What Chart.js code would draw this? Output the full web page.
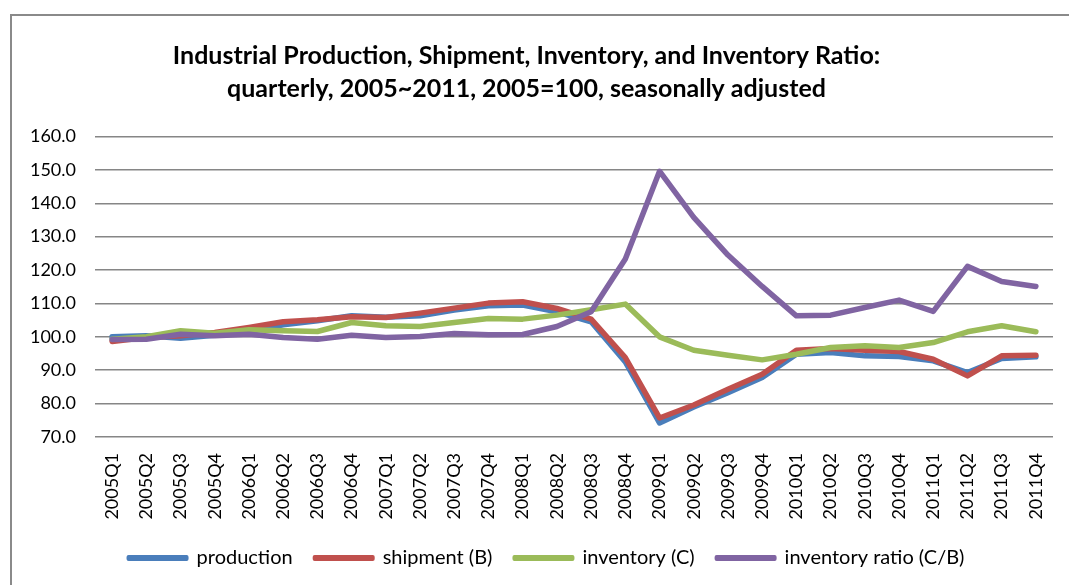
<!DOCTYPE html>
<html lang="en">
<head>
    <meta charset="UTF-8">
    <title>Industrial Production, Shipment, Inventory</title>
    <style>
        html, body { margin: 0; padding: 0; background: #fff; }
        #frame { position: absolute; left: 10px; top: 14px; width: 1200px; height: 700px;
                 border-left: 2px solid #8a8a8a; border-top: 2px solid #8a8a8a; }
        #wrap { position: absolute; left: 0; top: 0; width: 1069px; height: 585px; }
    </style>
</head>
<body>
    <div id="frame"></div>
    <div id="wrap"><canvas id="myChart"></canvas></div>

    <script src="https://cdn.jsdelivr.net/npm/chart.js"></script>
    <script>
        // quarters 2005Q1 .. 2011Q4
        const labels = [
            '2005Q1', '2005Q2', '2005Q3', '2005Q4',
            '2006Q1', '2006Q2', '2006Q3', '2006Q4',
            '2007Q1', '2007Q2', '2007Q3', '2007Q4',
            '2008Q1', '2008Q2', '2008Q3', '2008Q4',
            '2009Q1', '2009Q2', '2009Q3', '2009Q4',
            '2010Q1', '2010Q2', '2010Q3', '2010Q4',
            '2011Q1', '2011Q2', '2011Q3', '2011Q4'
        ];

        const production = [100.0, 100.3, 99.6, 100.5, 101.6, 103.6, 104.8, 106.3,
            105.9, 106.3, 108.0, 109.3, 109.5, 107.5, 104.5, 92.5,
            74.2, 79.0, 83.3, 87.8, 94.8, 95.3, 94.3, 94.1,
            92.8, 89.3, 93.5, 94.0];

        const shipment = [98.6, 99.8, 100.3, 101.3, 102.8, 104.5, 105.1, 106.0,
            105.8, 107.1, 108.6, 110.1, 110.5, 108.5, 105.3, 93.8,
            75.7, 79.6, 84.3, 88.8, 96.0, 96.5, 96.0, 95.6,
            93.3, 88.3, 94.3, 94.5];

        const inventory = [99.3, 100.0, 101.8, 101.1, 102.1, 101.8, 101.6, 104.3,
            103.3, 103.1, 104.3, 105.5, 105.3, 106.5, 108.1, 109.8,
            100.0, 96.0, 94.5, 93.1, 94.8, 96.8, 97.3, 96.8,
            98.3, 101.5, 103.3, 101.5];

        const inventoryRatio = [99.2, 99.3, 100.8, 100.3, 100.8, 99.8, 99.3, 100.5,
            99.8, 100.1, 101.0, 100.6, 100.7, 103.1, 107.5, 123.3,
            149.6, 135.8, 124.5, 115.1, 106.3, 106.5, 108.8, 111.0,
            107.6, 121.1, 116.6, 115.1];

        const fontName = "Lato, 'Open Sans', sans-serif";

        function line(label, values, color, order) {
            return {
                label: label,
                data: values,
                borderColor: color,
                backgroundColor: color,
                borderWidth: 5.5,
                pointRadius: 0,
                tension: 0,
                borderJoinStyle: 'round',
                borderCapStyle: 'round',
                order: order
            };
        }

        const data = {
            labels: labels,
            datasets: [
                line('production', production, '#4A7EBB', 3),
                line('shipment (B)', shipment, '#C0504D', 2),
                line('inventory (C)', inventory, '#9BBB59', 1),
                line('inventory ratio (C/B)', inventoryRatio, '#8064A2', 0)
            ]
        };

        // nudge the legend a little to the right, like in the original
        const legendShift = {
            id: 'legendShift',
            afterLayout(chart) {
                chart.legend.left += 20;
                chart.legend.right += 20;
            }
        };

        const config = {
            type: 'line',
            data: data,
            plugins: [legendShift],
            options: {
                responsive: true,
                maintainAspectRatio: false,
                animation: false,
                layout: { padding: { top: 14, right: 16, bottom: 7, left: 0 } },
                plugins: {
                    title: {
                        display: true,
                        text: ['Industrial Production, Shipment, Inventory, and Inventory Ratio:',
                               'quarterly, 2005~2011, 2005=100, seasonally adjusted'],
                        color: '#000',
                        font: { family: fontName, size: 25, weight: 'bold', lineHeight: 1.33 },
                        padding: { top: 25, bottom: 31 }
                    },
                    legend: {
                        position: 'bottom',
                        labels: {
                            color: '#000',
                            font: { family: fontName, size: 20 },
                            boxWidth: 58,
                            boxHeight: 2,
                            padding: 22,
                            sort: (a, b) => a.datasetIndex - b.datasetIndex,
                            generateLabels: (chart) => {
                                const items = Chart.defaults.plugins.legend.labels.generateLabels(chart);
                                items.forEach(it => { it.lineWidth = 4; });
                                return items;
                            }
                        }
                    },
                    tooltip: { enabled: false }
                },
                scales: {
                    x: {
                        offset: true,
                        grid: { display: false },
                        border: { display: false },
                        ticks: {
                            color: '#000',
                            font: { family: fontName, size: 18 },
                            autoSkip: false,
                            minRotation: 90,
                            maxRotation: 90,
                            padding: 8
                        },
                        afterFit: (scale) => { scale.height = 89; }
                    },
                    y: {
                        min: 70,
                        max: 160,
                        grid: { color: '#868686', lineWidth: 1.5, drawTicks: false },
                        border: { display: false },
                        ticks: {
                            stepSize: 10,
                            color: '#000',
                            font: { family: fontName, size: 18 },
                            padding: 19,
                            callback: (v) => v.toFixed(1)
                        },
                        afterFit: (scale) => { scale.width = 95; }
                    }
                }
            }
        };

        const ctx = document.querySelector('#myChart').getContext('2d');
        new Chart(ctx, config);
    </script>
</body>
</html>
